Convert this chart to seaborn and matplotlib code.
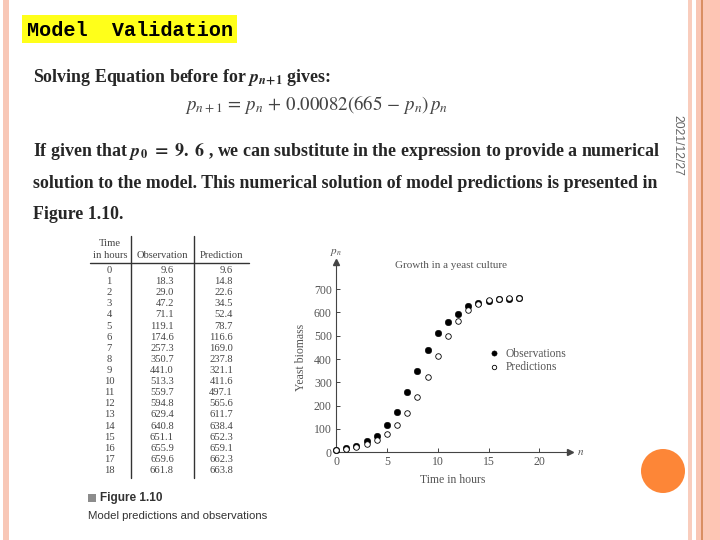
import numpy as np
import pandas as pd
import seaborn as sns
import matplotlib.pyplot as plt
from matplotlib.patches import Rectangle, Ellipse

# data from Figure 1.10 (yeast culture)
hours = [0, 1, 2, 3, 4, 5, 6, 7, 8, 9, 10, 11, 12, 13, 14, 15, 16, 17, 18]
observation = [9.6, 18.3, 29.0, 47.2, 71.1, 119.1, 174.6, 257.3, 350.7, 441.0,
               513.3, 559.7, 594.8, 629.4, 640.8, 651.1, 655.9, 659.6, 661.8]
prediction = [9.6, 14.8, 22.6, 34.5, 52.4, 78.7, 116.6, 169.0, 237.8, 321.1,
              411.6, 497.1, 565.6, 611.7, 638.4, 652.3, 659.1, 662.3, 663.8]
xticks = [0, 5, 10, 15, 20]
yticks = [0, 100, 200, 300, 400, 500, 600, 700]

sns.set_style('ticks')
plt.rcParams['font.family'] = ['Liberation Serif', 'DejaVu Serif']
plt.rcParams['mathtext.fontset'] = 'stix'

W, H = 720, 540
fig = plt.figure(figsize=(7.2, 5.4), dpi=100)
fig.patch.set_facecolor('white')


def fx(x):
    return x / W


def fy(y):
    return 1 - y / H


def rect(x0, x1, y0, y1, color):
    fig.add_artist(Rectangle((fx(x0), fy(y1)), fx(x1 - x0), (y1 - y0) / H,
                             transform=fig.transFigure, color=color, lw=0, zorder=0))


# slide borders
rect(3, 9, 0, 540, '#f8c7b6')
rect(688, 692, 0, 540, '#f9cdbd')
rect(696, 701, 0, 540, '#f9c6b4')
rect(701, 703, 0, 540, '#d99062')
rect(703, 710, 0, 540, '#fbc9b6')
rect(710, 720, 0, 540, '#fec5b4')
fig.add_artist(Ellipse((fx(663), fy(471)), 44 / W, 44 / H, transform=fig.transFigure,
                       color='#fd8637', lw=0))

# title
rect(22, 237, 15, 43, '#ffff1a')
fig.text(fx(27), fy(30), 'Model  Validation', family='Liberation Mono', weight='bold',
         fontsize=14.5, va='center', ha='left', color='black')

body = dict(family='Liberation Serif', weight='bold', fontsize=12.9, va='center', ha='left')
fig.text(fx(33), fy(77), r'Solving Equation before for $\mathbfit{p}_{\mathbfit{n}\mathbf{+1}}$ gives:', **body)
fig.text(fx(185), fy(105), r'$p_{n+1}\,=\,p_n\,+\,0.00082(665\,-\,p_n)\,p_n$',
         fontsize=13.6, va='center', ha='left', color='#444444')
fig.text(fx(33), fy(151), r'If given that $\mathbfit{p}_{\mathbf{0}}$ $\mathbf{=\ 9.\ 6}$ , we can substitute in the expression to provide a numerical', **body)
fig.text(fx(33), fy(183), 'solution to the model. This numerical solution of model predictions is presented in', **body)
fig.text(fx(33), fy(214), 'Figure 1.10.', **body)
fig.text(fx(677), fy(145), '2021/12/27', family='Liberation Sans', fontsize=8.8,
         rotation=270, va='center', ha='center', color='#666666')

# table
tcol = '#444444'
tkw = dict(family='Liberation Serif', fontsize=7.6, color=tcol, va='center')
fig.text(fx(110), fy(244), 'Time', ha='center', **tkw)
fig.text(fx(110), fy(256), 'in hours', ha='center', **tkw)
fig.text(fx(162), fy(255), 'Observation', ha='center', **tkw)
fig.text(fx(222), fy(255), 'Prediction', ha='center', **tkw)
fig.add_artist(plt.Line2D([fx(90), fx(249)], [fy(263), fy(263)], color='#333333', lw=1.0,
                          transform=fig.transFigure))
for xv in (131, 194):
    fig.add_artist(plt.Line2D([fx(xv), fx(xv)], [fy(236), fy(478)], color='#333333', lw=1.0,
                              transform=fig.transFigure))
for i, (t, o, p) in enumerate(zip(hours, observation, prediction)):
    yy = fy(270.5 + i * 200 / 18)
    fig.text(fx(109), yy, str(t), ha='center', **tkw)
    fig.text(fx(174), yy, f'{o:.1f}', ha='right', **tkw)
    fig.text(fx(233), yy, f'{p:.1f}', ha='right', **tkw)

# caption
rect(88, 96, 494, 502, '#8c8c8c')
fig.text(fx(100), fy(498), 'Figure 1.10', family='Liberation Sans', weight='bold',
         fontsize=8.5, va='center', ha='left', color='#333333')
fig.text(fx(88), fy(516), 'Model predictions and observations', family='Liberation Sans',
         fontsize=8.2, va='center', ha='left', color='#333333')

# chart
ax = fig.add_axes([fx(336), fy(452.3), (570 - 336) / W, (452.3 - 261.7) / H])
ax.set_facecolor('none')
ccol = '#555555'
sns.scatterplot(x=hours, y=observation, color='black', edgecolor='black', s=22,
                label='Observations', ax=ax, clip_on=False, zorder=3)
sns.scatterplot(x=hours, y=prediction, color='black', facecolor='white', edgecolor='black',
                s=16, linewidth=0.6, label='Predictions', ax=ax, clip_on=False, zorder=3)
ax.set_xlim(0, 23)
ax.set_ylim(0, 818)
ax.set_xticks(xticks)
ax.set_yticks(yticks)
sns.despine(ax=ax)
for s in ('left', 'bottom'):
    ax.spines[s].set_color('#444444')
    ax.spines[s].set_linewidth(0.8)
ax.tick_params(labelsize=8.5, labelcolor=ccol, color='#444444', length=3, width=0.7,
               direction='in', pad=3)
ax.plot(1, 0, '>', color='#444444', ms=4, transform=ax.transAxes, clip_on=False)
ax.plot(0, 1, '^', color='#444444', ms=4, transform=ax.transAxes, clip_on=False)
ax.set_xlabel('Time in hours', fontsize=8.5, color=ccol, labelpad=4)
ax.set_ylabel('Yeast biomass', fontsize=8.5, color=ccol, labelpad=5)
ax.text(1.03, 0, '$n$', transform=ax.transAxes, fontsize=8, color=ccol, va='center')
ax.text(0, 1.04, '$p_n$', transform=ax.transAxes, fontsize=8, color=ccol, ha='center')
ax.text(11.3, 800, 'Growth in a yeast culture', fontsize=8, color=ccol, ha='center', va='center')
ax.legend(frameon=False, loc='upper left', bbox_to_anchor=(0.6, 0.58), fontsize=8.3,
          labelspacing=0.15, handletextpad=0.0, borderpad=0, labelcolor=ccol, markerscale=0.8)

fig.savefig('out.png', dpi=100)
